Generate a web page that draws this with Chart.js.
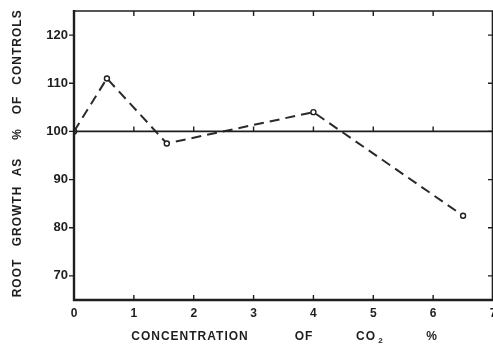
<!DOCTYPE html>
<html>
<head>
<meta charset="utf-8">
<script src="https://cdn.jsdelivr.net/npm/chart.js@4/dist/chart.umd.min.js"></script>
<style>
  html, body { margin: 0; padding: 0; background: #fff; }
  #wrap { width: 493px; height: 347px; }
</style>
</head>
<body>
<div id="wrap"><canvas id="co2Chart"></canvas></div>
<script>
// CO2 concentration (%) and root growth as % of controls
const co2Percent = [0, 0.55, 1.55, 4, 6.5];
const rootGrowth = [100, 111, 97.5, 104, 82.5];
const controlLevel = [100, 100];
const controlSpan = [0, 7];
const xTickValues = [0, 1, 2, 3, 4, 5, 6, 7];
const yTickValues = [70, 80, 90, 100, 110, 120];

const INK = '#1e1e1e';
const FAMILY = '"Liberation Sans", Arial, sans-serif';
const FONT = 'bold 12px ' + FAMILY;

// frame, inward ticks and spaced axis titles
const framePlugin = {
    id: 'frame',
    afterDraw(chart) {
        const { ctx, chartArea: a, scales: { x, y } } = chart;
        ctx.save();
        ctx.strokeStyle = INK;
        ctx.lineCap = 'butt';

        // box
        ctx.lineWidth = 1.6;
        ctx.beginPath();
        ctx.moveTo(a.left, a.top); ctx.lineTo(a.right, a.top);
        ctx.moveTo(a.right - 0.5, a.top); ctx.lineTo(a.right - 0.5, a.bottom);
        ctx.stroke();
        ctx.lineWidth = 2.4;
        ctx.beginPath();
        ctx.moveTo(a.left, a.top - 1); ctx.lineTo(a.left, a.bottom);
        ctx.lineTo(a.right, a.bottom);
        ctx.stroke();

        // inward ticks on top, bottom and along the control line
        ctx.lineWidth = 1.4;
        const y100 = y.getPixelForValue(100);
        ctx.beginPath();
        xTickValues.slice(1, -1).forEach(v => {
            const px = x.getPixelForValue(v);
            ctx.moveTo(px, a.top); ctx.lineTo(px, a.top + 5);
            ctx.moveTo(px, a.bottom); ctx.lineTo(px, a.bottom - 5);
            ctx.moveTo(px, y100); ctx.lineTo(px, y100 - 5);
        });
        // left outward, right inward
        yTickValues.forEach(v => {
            const py = y.getPixelForValue(v);
            ctx.moveTo(a.left - 5, py); ctx.lineTo(a.left, py);
            ctx.moveTo(a.right, py); ctx.lineTo(a.right - 5, py);
        });
        ctx.stroke();

        // axis titles
        ctx.fillStyle = INK;
        ctx.font = FONT;
        ctx.textAlign = 'center';
        ctx.textBaseline = 'middle';
        ctx.letterSpacing = '1px';
        [['CONCENTRATION', 190], ['OF', 304], ['%', 432]].forEach(([t, cx]) => {
            ctx.fillText(t, cx, 337);
        });
        ctx.fillText('CO', 366, 337);
        ctx.font = 'bold 8px ' + FAMILY;
        ctx.fillText('2', 381, 341);

        ctx.font = FONT;
        ctx.translate(18, 0);
        ctx.rotate(-Math.PI / 2);
        [['ROOT', 278], ['GROWTH', 216], ['AS', 167], ['%', 134], ['OF', 105], ['CONTROLS', 47]]
            .forEach(([t, cy]) => ctx.fillText(t, -cy, 0));
        ctx.restore();
    }
};

new Chart(document.getElementById('co2Chart'), {
    type: 'scatter',
    data: {
        datasets: [
            {
                label: 'control',
                data: controlSpan.map((v, i) => ({ x: v, y: controlLevel[i] })),
                showLine: true,
                borderColor: INK,
                borderWidth: 1.8,
                pointRadius: 0
            },
            {
                label: 'root growth',
                data: co2Percent.map((v, i) => ({ x: v, y: rootGrowth[i] })),
                showLine: true,
                borderColor: '#2a2a2a',
                borderWidth: 2,
                borderDash: [10, 6],
                pointRadius: 2.5,
                pointBorderWidth: 1.4,
                pointBackgroundColor: '#fff',
                pointBorderColor: INK
            }
        ]
    },
    options: {
        responsive: true,
        maintainAspectRatio: false,
        animation: false,
        layout: { autoPadding: false, padding: { top: 11, right: 0, left: 0, bottom: 0 } },
        plugins: {
            legend: { display: false },
            tooltip: { enabled: false }
        },
        scales: {
            x: {
                type: 'linear',
                min: 0,
                max: 7,
                grid: { display: false, drawTicks: false },
                border: { display: false },
                afterBuildTicks: s => { s.ticks = xTickValues.map(v => ({ value: v })); },
                // let the "7" run off the right edge
                afterFit: s => { s.height = 47; s.paddingRight = 0; s.paddingLeft = 0; },
                ticks: {
                    color: INK,
                    font: { family: FAMILY, size: 12, weight: 'bold' },
                    padding: 6,
                    maxRotation: 0
                }
            },
            y: {
                min: 65,
                max: 125,
                grid: { display: false, drawTicks: false },
                border: { display: false },
                afterBuildTicks: s => { s.ticks = yTickValues.map(v => ({ value: v })); },
                afterFit: s => { s.width = 74; s.paddingTop = 0; s.paddingBottom = 0; },
                ticks: {
                    color: INK,
                    font: { family: FAMILY, size: 13, weight: 'bold' },
                    padding: 6
                }
            }
        }
    },
    plugins: [framePlugin]
});
</script>
</body>
</html>
